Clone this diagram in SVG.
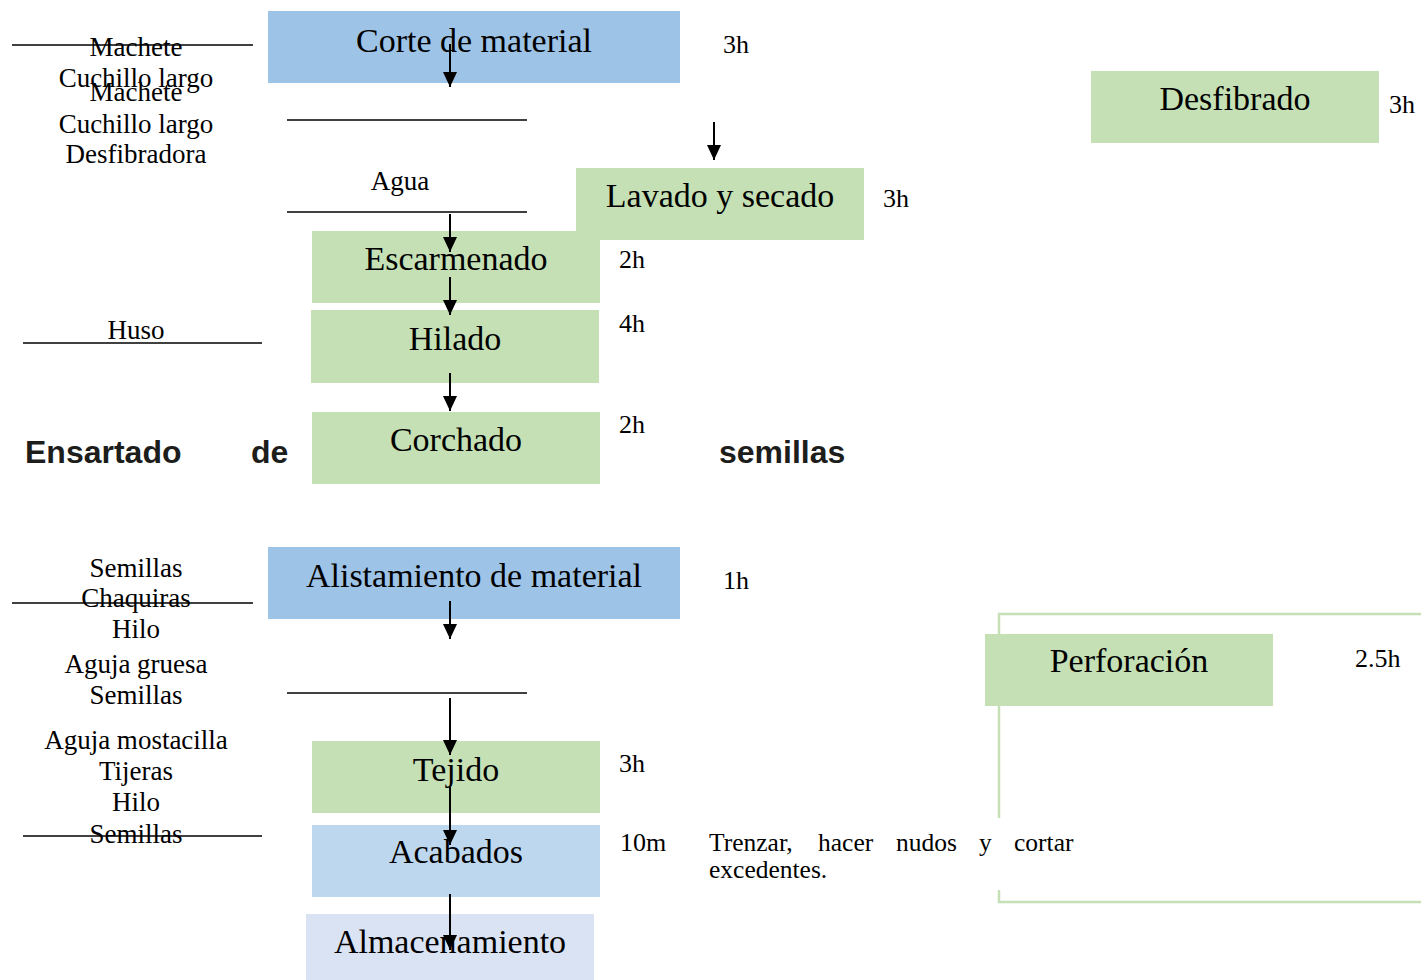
<svg xmlns="http://www.w3.org/2000/svg" width="1421" height="980" viewBox="0 0 1421 980">
<style>
.lbl{font-family:"Liberation Serif","Times New Roman",serif;font-size:34px;fill:#000;text-anchor:middle}
.side{font-family:"Liberation Serif","Times New Roman",serif;font-size:27px;fill:#000;text-anchor:middle}
.t{font-family:"Liberation Serif","Times New Roman",serif;font-size:26px;fill:#000}
.note{font-family:"Liberation Serif","Times New Roman",serif;font-size:25.5px;fill:#000}
.bold{font-family:"Liberation Sans",Arial,sans-serif;font-size:32px;font-weight:bold;fill:#1d1d1b}
.blue{fill:#9dc3e6}
.green{fill:#c5e0b4}
.lblue{fill:#bdd7ee}
.pale{fill:#dae3f3}
.rule{stroke:#000;stroke-width:1.3;fill:none}
.arr{stroke:#000;stroke-width:2;fill:none;marker-end:url(#ah)}
</style>
<defs>
<marker id="ah" markerUnits="userSpaceOnUse" viewBox="0 0 15 14" refX="15" refY="7" markerWidth="15" markerHeight="14" orient="auto">
<path d="M0,0 L15,7 L0,14 z" fill="#000"/>
</marker>
</defs>
<rect width="1421" height="980" fill="#fff"/>

<g id="frame">
<path d="M1421,614 H999 V818 M999,890 V902 H1421" stroke="#c5e0b4" stroke-width="2.5" fill="none"/>
</g>

<g id="corte"><rect class="blue" x="268" y="11" width="412" height="72"/><text class="lbl" x="474" y="52">Corte de material</text><text class="t" x="723" y="53">3h</text></g>
<g id="desfibrado"><rect class="green" x="1091" y="71" width="288" height="72"/><text class="lbl" x="1235" y="110">Desfibrado</text><text class="t" x="1389" y="113">3h</text></g>
<g id="lavado"><rect class="green" x="576" y="168" width="288" height="72"/><text class="lbl" x="720" y="207">Lavado y secado</text><text class="t" x="883" y="207">3h</text></g>
<g id="escarmenado"><rect class="green" x="312" y="231" width="288" height="72"/><text class="lbl" x="456" y="270">Escarmenado</text><text class="t" x="619" y="268">2h</text></g>
<g id="hilado"><rect class="green" x="311" y="310" width="288" height="73"/><text class="lbl" x="455" y="350">Hilado</text><text class="t" x="619" y="332">4h</text></g>
<g id="corchado"><rect class="green" x="312" y="412" width="288" height="72"/><text class="lbl" x="456" y="451">Corchado</text><text class="t" x="619" y="433">2h</text></g>
<g id="alistamiento"><rect class="blue" x="268" y="547" width="412" height="72"/><text class="lbl" x="474" y="587">Alistamiento de material</text><text class="t" x="723" y="589">1h</text></g>
<g id="perforacion"><rect class="green" x="985" y="634" width="288" height="72"/><text class="lbl" x="1129" y="672">Perforación</text><text class="t" x="1355" y="667">2.5h</text></g>
<g id="tejido"><rect class="green" x="312" y="741" width="288" height="72"/><text class="lbl" x="456" y="781">Tejido</text><text class="t" x="619" y="772">3h</text></g>
<g id="acabados"><rect class="lblue" x="312" y="825" width="288" height="72"/><text class="lbl" x="456" y="863">Acabados</text><text class="t" x="620" y="851">10m</text></g>
<g id="almacenamiento"><rect class="pale" x="306" y="914" width="288" height="66"/><text class="lbl" x="450" y="953">Almacenamiento</text></g>

<g id="notes">
<text class="note" y="851"><tspan x="709">Trenzar,</tspan><tspan x="818">hacer</tspan><tspan x="896">nudos</tspan><tspan x="979">y</tspan><tspan x="1014">cortar</tspan></text>
<text class="note" x="709" y="878">excedentes.</text>
<text class="bold" x="25" y="463">Ensartado</text>
<text class="bold" x="251" y="463">de</text>
<text class="bold" x="719" y="463">semillas</text>
</g>

<g id="tools">
<text class="side" x="136" y="56">Machete</text>
<text class="side" x="136" y="87">Cuchillo largo</text>
<text class="side" x="136" y="101">Machete</text>
<text class="side" x="136" y="133">Cuchillo largo</text>
<text class="side" x="136" y="163">Desfibradora</text>
<text class="side" x="400" y="190">Agua</text>
<text class="side" x="136" y="339">Huso</text>
<text class="side" x="136" y="577">Semillas</text>
<text class="side" x="136" y="607">Chaquiras</text>
<text class="side" x="136" y="638">Hilo</text>
<text class="side" x="136" y="673">Aguja gruesa</text>
<text class="side" x="136" y="704">Semillas</text>
<text class="side" x="136" y="749">Aguja mostacilla</text>
<text class="side" x="136" y="780">Tijeras</text>
<text class="side" x="136" y="811">Hilo</text>
<text class="side" x="136" y="843">Semillas</text>
</g>

<g id="rules">
<line class="rule" x1="12" y1="45" x2="253" y2="45"/>
<line class="rule" x1="287" y1="120" x2="527" y2="120"/>
<line class="rule" x1="287" y1="212" x2="527" y2="212"/>
<line class="rule" x1="23" y1="343" x2="262" y2="343"/>
<line class="rule" x1="12" y1="603" x2="253" y2="603"/>
<line class="rule" x1="287" y1="693" x2="527" y2="693"/>
<line class="rule" x1="23" y1="836" x2="262" y2="836"/>
</g>

<g id="connectors">
<line class="arr" x1="450" y1="44" x2="450" y2="87"/>
<line class="arr" x1="714" y1="122" x2="714" y2="160"/>
<line class="arr" x1="450" y1="214" x2="450" y2="252"/>
<line class="arr" x1="450" y1="277" x2="450" y2="315"/>
<line class="arr" x1="450" y1="373" x2="450" y2="411"/>
<line class="arr" x1="450" y1="601" x2="450" y2="639"/>
<line class="arr" x1="450" y1="698" x2="450" y2="755"/>
<line class="arr" x1="450" y1="787" x2="450" y2="845"/>
<line class="arr" x1="450" y1="894" x2="450" y2="950"/>
</g>
</svg>
